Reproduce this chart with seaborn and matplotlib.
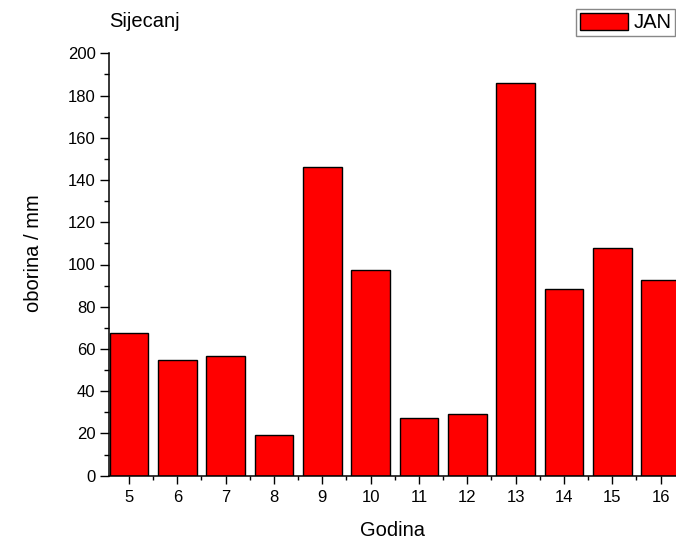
import numpy as np
import pandas as pd
import seaborn as sns
import matplotlib.pyplot as plt
from matplotlib.patches import Patch
from matplotlib.ticker import MultipleLocator, FixedLocator

godina = ['5', '6', '7', '8', '9', '10', '11', '12', '13', '14', '15', '16']
oborina = [67.8, 55.0, 56.5, 19.4, 146.4, 97.6, 27.3, 29.2, 185.8, 88.6, 107.8, 92.5]

df = pd.DataFrame({'Godina': godina, 'oborina': oborina})

sns.set_style('ticks')
plt.rcParams['font.family'] = ['Liberation Sans', 'DejaVu Sans']
plt.rcParams['text.color'] = 'black'
plt.rcParams['axes.labelcolor'] = 'black'
plt.rcParams['xtick.color'] = 'black'
plt.rcParams['ytick.color'] = 'black'

fig = plt.figure(figsize=(6.76, 5.42), dpi=100)
ax = fig.add_axes([108.7 / 676, 66.3 / 542, 1 - 108.7 / 676, (475.7 - 53.3) / 542])

sns.barplot(data=df, x='Godina', y='oborina', color='red', saturation=1,
            edgecolor='black', linewidth=1, width=0.8, errorbar=None, ax=ax)

ax.set_xlim(-0.42, 11.32)
ax.set_ylim(0, 200)
ax.yaxis.set_major_locator(MultipleLocator(20))
ax.yaxis.set_minor_locator(MultipleLocator(10))
ax.xaxis.set_minor_locator(FixedLocator(np.arange(-0.5, 12, 1)))

ax.tick_params(axis='x', which='major', direction='out', length=6, width=1, labelsize=12, pad=4)
ax.tick_params(axis='x', which='minor', direction='out', length=3, width=1)
ax.tick_params(axis='y', which='major', direction='out', length=6.5, width=1, labelsize=12, pad=3)
ax.tick_params(axis='y', which='minor', direction='out', length=3.6, width=1)

for s in ['top', 'right']:
    ax.spines[s].set_visible(False)
for s in ['left', 'bottom']:
    ax.spines[s].set_linewidth(1.1)
    ax.spines[s].set_color('black')

ax.set_xlabel('Godina', fontsize=14.5, labelpad=12)
ax.set_ylabel('oborina / mm', fontsize=14.5)
ax.yaxis.set_label_coords(-0.116, 0.527)

fig.text(109 / 676, 1 - 27 / 542, 'Sijecanj', fontsize=14.5, ha='left', va='baseline')

handle = Patch(facecolor='red', edgecolor='black', linewidth=1)
fig.legend(handles=[handle], labels=['JAN'], loc='upper left',
           bbox_to_anchor=(576 / 676, 1 - 9 / 542), fontsize=14.5,
           frameon=True, fancybox=False, edgecolor='#888888', framealpha=1,
           borderpad=0.2, borderaxespad=0, handlelength=2.4, handleheight=0.9,
           handletextpad=0.25)

fig.savefig('out.png', dpi=100, facecolor='white')
